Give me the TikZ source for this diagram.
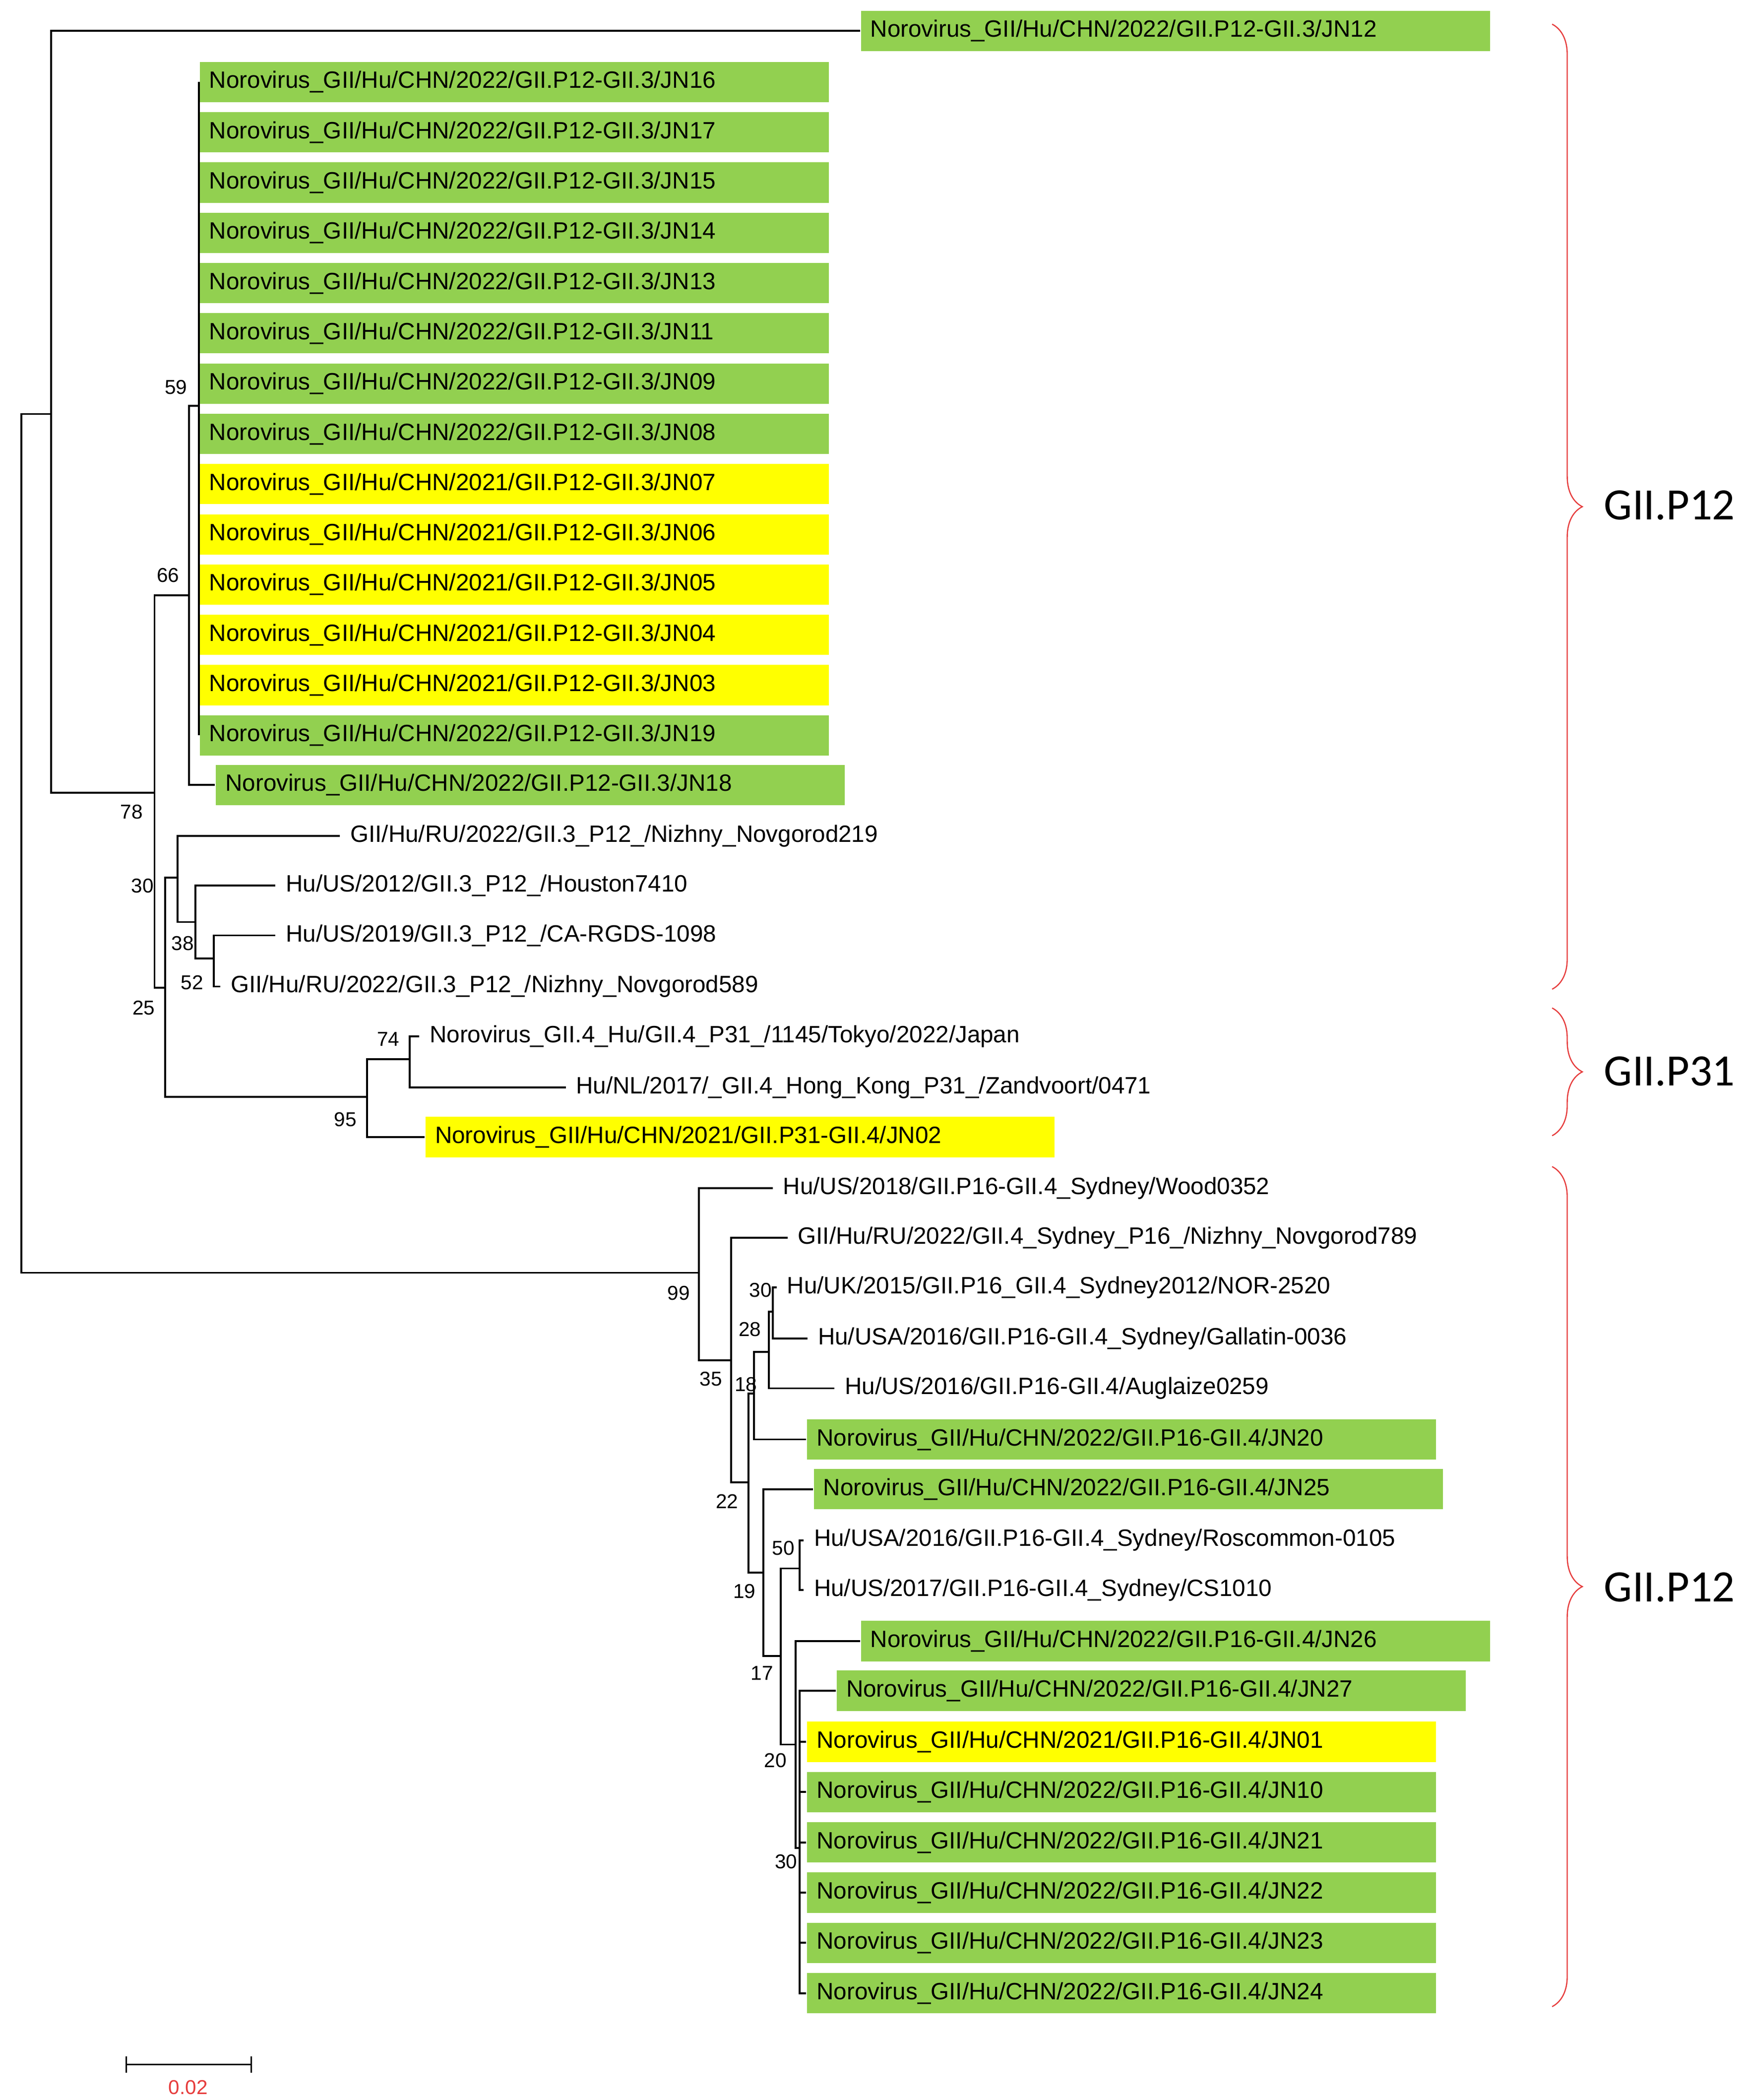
\documentclass[tikz,border=0pt]{standalone}
\usepackage{fontspec}
\setmainfont{Liberation Sans}
\newfontfamily\cladefont{Carlito}
\usetikzlibrary{decorations.pathreplacing}
\definecolor{grn}{RGB}{146,208,80}
\definecolor{ylw}{RGB}{255,255,0}
\definecolor{brc}{RGB}{230,60,60}

\tikzset{
  leaf/.style={anchor=west,inner xsep=4pt,inner ysep=1pt,font=\fontsize{10}{12}\selectfont},
  hl/.style={leaf,fill=#1,text width=9.08cm,align=left,minimum height=0.6cm,inner ysep=0pt},
  bs/.style={font=\fontsize{8.5}{10}\selectfont,inner sep=0pt},
  br/.style={draw=brc,line width=0.5pt,decorate,decoration={brace,amplitude=0.45cm}},
  clade/.style={anchor=west,font=\cladefont\fontsize{19}{22}\selectfont,inner sep=0pt}
}

\begin{document}
\begin{tikzpicture}[x=0.02cm,y=-0.02cm,line width=0.8pt]
  \useasboundingbox (0,0) rectangle (1300,1562.5);

  % internal nodes
  \coordinate (root) at (16,628);
  \coordinate (nA) at (38,308);
  \coordinate (n78) at (115,590);
  \coordinate (n66) at (140.5,443);
  \coordinate (n59) at (148,302);
  \coordinate (n25) at (123,735);
  \coordinate (n30) at (132,653);
  \coordinate (n38) at (145.5,686);
  \coordinate (n52) at (159,713);
  \coordinate (n95) at (273,816);
  \coordinate (n74) at (305,788);
  \coordinate (n99) at (520,947);
  \coordinate (n35) at (544,1012);
  \coordinate (n22) at (557,1103);
  \coordinate (n18) at (561,1037);
  \coordinate (n28) at (572,1006);
  \coordinate (n30b) at (575,976);
  \coordinate (n19) at (568,1170);
  \coordinate (n17) at (581,1232);
  \coordinate (n50) at (595,1167);
  \coordinate (n20) at (592,1298);
  \coordinate (n30c) at (595,1375);

  % leaves, upper part
  \node[hl=grn] (jn12) at (640,23) {Norovirus\_GII/Hu/CHN/2022/GII.P12-GII.3/JN12};
  \foreach \j/\yr/\c [count=\i from 0] in {16/2022/grn,17/2022/grn,15/2022/grn,14/2022/grn,13/2022/grn,11/2022/grn,09/2022/grn,08/2022/grn,07/2021/ylw,06/2021/ylw,05/2021/ylw,04/2021/ylw,03/2021/ylw,19/2022/grn}{
    \node[hl=\c] (jn\j) at (148,61+37.4*\i) {Norovirus\_GII/Hu/CHN/\yr/GII.P12-GII.3/JN\j};
    \draw (n59) |- (jn\j.west);
  }
  \node[hl=grn] (jn18) at (160,584) {Norovirus\_GII/Hu/CHN/2022/GII.P12-GII.3/JN18};
  \node[leaf] (nn219) at (253,622) {GII/Hu/RU/2022/GII.3\_P12\_/Nizhny\_Novgorod219};
  \node[leaf] (hou) at (205,659) {Hu/US/2012/GII.3\_P12\_/Houston7410};
  \node[leaf] (rgds) at (205,696) {Hu/US/2019/GII.3\_P12\_/CA-RGDS-1098};
  \node[leaf] (nn589) at (164,734) {GII/Hu/RU/2022/GII.3\_P12\_/Nizhny\_Novgorod589};
  \node[leaf] (tok) at (312,771) {Norovirus\_GII.4\_Hu/GII.4\_P31\_/1145/Tokyo/2022/Japan};
  \node[leaf] (zan) at (421,809) {Hu/NL/2017/\_GII.4\_Hong\_Kong\_P31\_/Zandvoort/0471};
  \node[hl=ylw] (jn02) at (316,846) {Norovirus\_GII/Hu/CHN/2021/GII.P31-GII.4/JN02};

  % leaves, lower part
  \node[leaf] (wood) at (575,884) {Hu/US/2018/GII.P16-GII.4\_Sydney/Wood0352};
  \node[leaf] (nn789) at (586,921) {GII/Hu/RU/2022/GII.4\_Sydney\_P16\_/Nizhny\_Novgorod789};
  \node[leaf] (nor) at (578,958) {Hu/UK/2015/GII.P16\_GII.4\_Sydney2012/NOR-2520};
  \node[leaf] (gal) at (601,996) {Hu/USA/2016/GII.P16-GII.4\_Sydney/Gallatin-0036};
  \node[leaf] (aug) at (621,1033) {Hu/US/2016/GII.P16-GII.4/Auglaize0259};
  \node[hl=grn] (jn20) at (600,1071) {Norovirus\_GII/Hu/CHN/2022/GII.P16-GII.4/JN20};
  \node[hl=grn] (jn25) at (605,1108) {Norovirus\_GII/Hu/CHN/2022/GII.P16-GII.4/JN25};
  \node[leaf] (ros) at (598,1146) {Hu/USA/2016/GII.P16-GII.4\_Sydney/Roscommon-0105};
  \node[leaf] (cs) at (598,1183) {Hu/US/2017/GII.P16-GII.4\_Sydney/CS1010};
  \node[hl=grn] (jn26) at (640,1221) {Norovirus\_GII/Hu/CHN/2022/GII.P16-GII.4/JN26};
  \node[hl=grn] (jn27) at (622,1258) {Norovirus\_GII/Hu/CHN/2022/GII.P16-GII.4/JN27};
  \foreach \j/\yr/\c [count=\i from 0] in {01/2021/ylw,10/2022/grn,21/2022/grn,22/2022/grn,23/2022/grn,24/2022/grn}{
    \node[hl=\c] (jn\j) at (600,1296+37.4*\i) {Norovirus\_GII/Hu/CHN/\yr/GII.P16-GII.4/JN\j};
    \draw (n30c) |- (jn\j.west);
  }

  % branches
  \draw (root) |- (nA);
  \draw (root) |- (n99);
  \draw (nA) |- (jn12.west);
  \draw (nA) |- (n78);
  \draw (n78) |- (n66);
  \draw (n78) |- (n25);
  \draw (n66) |- (n59);
  \draw (n66) |- (jn18.west);
  \draw (n25) |- (n30);
  \draw (n25) |- (n95);
  \draw (n30) |- (nn219.west);
  \draw (n30) |- (n38);
  \draw (n38) |- (hou.west);
  \draw (n38) |- (n52);
  \draw (n52) |- (rgds.west);
  \draw (n52) |- (nn589.west);
  \draw (n95) |- (n74);
  \draw (n95) |- (jn02.west);
  \draw (n74) |- (tok.west);
  \draw (n74) |- (zan.west);
  \draw (n99) |- (wood.west);
  \draw (n99) |- (n35);
  \draw (n35) |- (nn789.west);
  \draw (n35) |- (n22);
  \draw (n22) |- (n18);
  \draw (n22) |- (n19);
  \draw (n18) |- (n28);
  \draw (n18) |- (jn20.west);
  \draw (n28) |- (n30b);
  \draw (n28) |- (aug.west);
  \draw (n30b) |- (nor.west);
  \draw (n30b) |- (gal.west);
  \draw (n19) |- (jn25.west);
  \draw (n19) |- (n17);
  \draw (n17) |- (n50);
  \draw (n17) |- (n20);
  \draw (n50) |- (ros.west);
  \draw (n50) |- (cs.west);
  \draw (n20) |- (jn26.west);
  \draw (n20) |- (n30c);
  \draw (n30c) |- (jn27.west);

  % bootstrap values
  \node[bs] (b59) at (131,288) {59};
  \node[bs] (b66) at (125,428) {66};
  \node[bs] (b78) at (98,604) {78};
  \node[bs] (b30) at (106,659) {30};
  \node[bs] (b38) at (136,702) {38};
  \node[bs] (b52) at (143,731) {52};
  \node[bs] (b25) at (107,750) {25};
  \node[bs] (b74) at (289,773) {74};
  \node[bs] (b95) at (257,833) {95};
  \node[bs] (b99) at (505,962) {99};
  \node[bs] (b35) at (529,1026) {35};
  \node[bs] (b18) at (555,1030) {18};
  \node[bs] (b30b) at (566,960) {30};
  \node[bs] (b28) at (558,989) {28};
  \node[bs] (b22) at (541,1117) {22};
  \node[bs] (b19) at (554,1184) {19};
  \node[bs] (b17) at (567,1245) {17};
  \node[bs] (b50) at (583,1152) {50};
  \node[bs] (b20) at (577,1310) {20};
  \node[bs] (b30c) at (585,1385) {30};

  % clades
  \draw[br] (1155,18) -- (1155,736);
  \draw[br] (1155,750) -- (1155,845);
  \draw[br] (1155,868) -- (1155,1493);
  \node[clade] (c1) at (1193,376) {GII.P12};
  \node[clade] (c2) at (1193,797) {GII.P31};
  \node[clade] (c3) at (1193,1181) {GII.P12};

  % scale bar
  \coordinate (sb1) at (94,1536);
  \coordinate (sb2) at (187,1536);
  \draw[line width=0.6pt] (sb1) -- (sb2);
  \draw[line width=0.6pt] ([yshift=0.12cm]sb1) -- ([yshift=-0.12cm]sb1);
  \draw[line width=0.6pt] ([yshift=0.12cm]sb2) -- ([yshift=-0.12cm]sb2);
  \node[bs,text=brc] (sbl) at (140,1553) {0.02};
\end{tikzpicture}
\end{document}
